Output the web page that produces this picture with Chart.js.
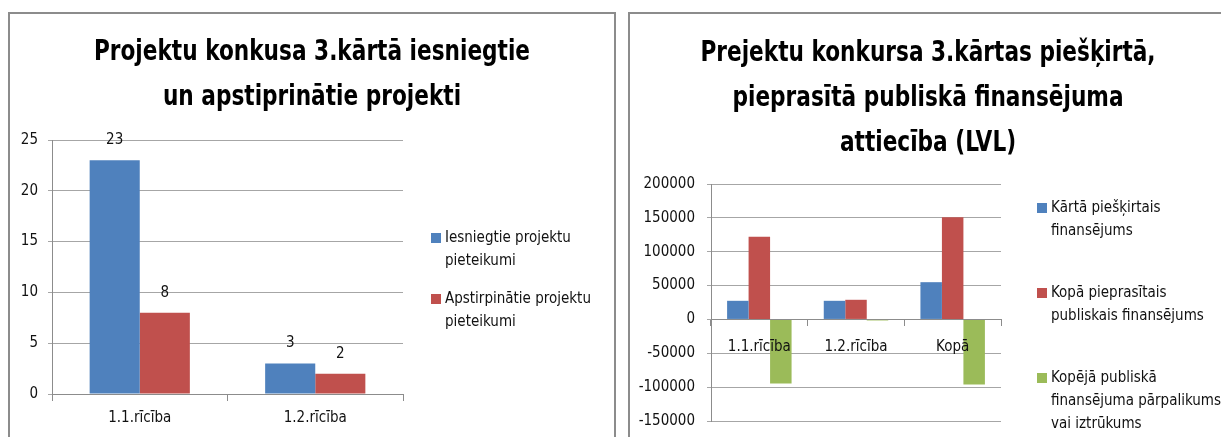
<!DOCTYPE html>
<html>
<head>
<meta charset="utf-8">
<script src="https://cdn.jsdelivr.net/npm/chart.js@4/dist/chart.umd.min.js"></script>
<style>
  html, body { margin: 0; padding: 0; background: #fff; overflow: hidden; width: 1221px; height: 437px; }
  body { font-family: "Liberation Sans Narrow", "DejaVu Sans Condensed", "Open Sans", sans-serif; }
  .box { position: absolute; border: 2px solid #8c8c8c; box-sizing: border-box; }
  .wrap { position: absolute; }
  .title { position: absolute; text-align: center; font-weight: bold; font-size: 29px; line-height: 45px; color: #000; transform: scaleX(0.83); transform-origin: center top; white-space: nowrap; }
  .legend { position: absolute; font-size: 15px; color: #111; line-height: 23px; }
  .legend .item { position: absolute; left: 0; white-space: nowrap; }
  .legend .mark { position: absolute; left: 0; top: 7px; width: 10px; height: 10px; }
  .legend .txt { position: absolute; left: 14px; top: 0; }
</style>
</head>
<body>
<div class="box" style="left:8px; top:12px; width:608px; height:440px;"></div>
<div class="box" style="left:628px; top:12px; width:600px; height:440px;"></div>
<div class="wrap" style="left:11px; top:14px; width:602px; height:423px;"><canvas id="projectsChart"></canvas></div>
<div class="wrap" style="left:630px; top:14px; width:596px; height:423px;"><canvas id="fundingChart"></canvas></div>
<div class="title" id="projectsTitle" style="left:8px; top:28px; width:608px;"></div>
<div class="title" id="fundingTitle" style="left:628px; top:29px; width:600px;"></div>
<div class="legend" id="projectsLegend" style="left:431px; top:226px;"></div>
<div class="legend" id="fundingLegend" style="left:1037px; top:196px;"></div>

<script>
// data for the first chart
const projectCategories = ["1.1.rīcība", "1.2.rīcība"];
const submittedProjects = [23, 3];
const approvedProjects = [8, 2];
const projectSeries = [["Iesniegtie projektu", "pieteikumi"], ["Apstirpinātie projektu", "pieteikumi"]];
const projectTitle = ["Projektu konkusa 3.kārtā iesniegtie", "un apstiprinātie projekti"];

// data for the second chart
const fundingCategories = ["1.1.rīcība", "1.2.rīcība", "Kopā"];
const grantedFunding = [27500, 27500, 55000];
const requestedFunding = [122000, 29000, 151000];
const fundingBalance = [-94500, -1500, -96000];
const fundingSeries = [
  ["Kārtā piešķirtais", "finansējums"],
  ["Kopā pieprasītais", "publiskais finansējums"],
  ["Kopējā publiskā", "finansējuma pārpalikums", "vai iztrūkums"],
];
const fundingTitle = ["Prejektu konkursa 3.kārtas piešķirtā,", "pieprasītā publiskā finansējuma", "attiecība (LVL)"];

const fontFamily = '"Liberation Sans Narrow", "DejaVu Sans Condensed", "Open Sans", sans-serif';
const colors = ["#4F81BD", "#C0504D", "#9BBB59"];
const gridColor = "#a6a6a6";
const axisColor = "#8c8c8c";
const textColor = "#111";
const smallFont = { family: fontFamily, size: 15 };

// value labels above the bars of the first chart
const valueLabels = {
  id: "valueLabels",
  afterDatasetsDraw(chart) {
    const ctx = chart.ctx;
    ctx.save();
    ctx.font = "15px " + fontFamily;
    ctx.fillStyle = textColor;
    ctx.textAlign = "center";
    ctx.textBaseline = "middle";
    chart.data.datasets.forEach((ds, i) => {
      chart.getDatasetMeta(i).data.forEach((bar, j) => {
        ctx.fillText(ds.data[j], bar.x, bar.y - 20);
      });
    });
    ctx.restore();
  },
};

// simple html legend with fixed line breaks
function buildLegend(el, series, gap) {
  series.forEach((lines, i) => {
    const item = document.createElement("div");
    item.className = "item";
    item.style.top = i * gap + "px";
    item.innerHTML =
      '<span class="mark" style="background:' + colors[i] + '"></span>' +
      '<div class="txt">' + lines.join("<br>") + "</div>";
    el.appendChild(item);
  });
}

function projectsDraw() {
  new Chart(document.querySelector("#projectsChart"), {
    type: "bar",
    data: {
      labels: projectCategories,
      datasets: [
        { label: projectSeries[0].join(" "), data: submittedProjects, backgroundColor: colors[0] },
        { label: projectSeries[1].join(" "), data: approvedProjects, backgroundColor: colors[1] },
      ],
    },
    options: {
      responsive: true,
      maintainAspectRatio: false,
      animation: false,
      categoryPercentage: 0.571,
      barPercentage: 1,
      layout: { padding: { left: 0, right: 210, top: 126, bottom: 0 } },
      plugins: {
        legend: { display: false },
        tooltip: { enabled: false },
      },
      scales: {
        x: {
          afterFit: (scale) => { scale.height = 43; },
          grid: { offset: true, drawOnChartArea: false, tickLength: 7, color: axisColor },
          border: { color: axisColor },
          ticks: { color: textColor, padding: 8, font: smallFont },
        },
        y: {
          min: 0,
          max: 25,
          afterFit: (scale) => { scale.width = 41; },
          grid: { color: gridColor, tickLength: 4 },
          border: { color: axisColor },
          ticks: { stepSize: 5, color: textColor, padding: 10, font: smallFont },
        },
      },
    },
    plugins: [valueLabels],
  });
}

function fundingDraw() {
  new Chart(document.querySelector("#fundingChart"), {
    type: "bar",
    data: {
      labels: fundingCategories,
      datasets: [
        { label: fundingSeries[0].join(" "), data: grantedFunding, backgroundColor: colors[0] },
        { label: fundingSeries[1].join(" "), data: requestedFunding, backgroundColor: colors[1] },
        { label: fundingSeries[2].join(" "), data: fundingBalance, backgroundColor: colors[2] },
      ],
    },
    options: {
      responsive: true,
      maintainAspectRatio: false,
      animation: false,
      categoryPercentage: 0.667,
      barPercentage: 1,
      layout: { padding: { left: 0, right: 225, top: 170, bottom: 16 } },
      plugins: {
        legend: { display: false },
        tooltip: { enabled: false },
      },
      scales: {
        x: {
          position: { y: 0 },
          afterFit: (scale) => { scale.height = 0; },
          grid: { offset: true, drawOnChartArea: false, tickLength: 6, color: axisColor },
          border: { color: axisColor },
          // z: 1 puts the category names over the negative bars like in the original
          ticks: { z: 1, color: textColor, padding: 13, font: smallFont },
        },
        y: {
          min: -150000,
          max: 200000,
          afterFit: (scale) => {
            scale.width = 81;
            scale.paddingBottom = 10; // ignore tick padding when reserving room for the last label
          },
          grid: { color: gridColor, tickLength: 4 },
          border: { color: axisColor },
          ticks: {
            stepSize: 50000,
            color: textColor,
            padding: 12,
            font: smallFont,
            callback: (value) => String(value),
          },
        },
      },
    },
  });
}

document.querySelector("#projectsTitle").innerHTML = projectTitle.join("<br>");
document.querySelector("#fundingTitle").innerHTML = fundingTitle.join("<br>");
buildLegend(document.querySelector("#projectsLegend"), projectSeries, 61);
buildLegend(document.querySelector("#fundingLegend"), fundingSeries, 85);
projectsDraw();
fundingDraw();
</script>
</body>
</html>
